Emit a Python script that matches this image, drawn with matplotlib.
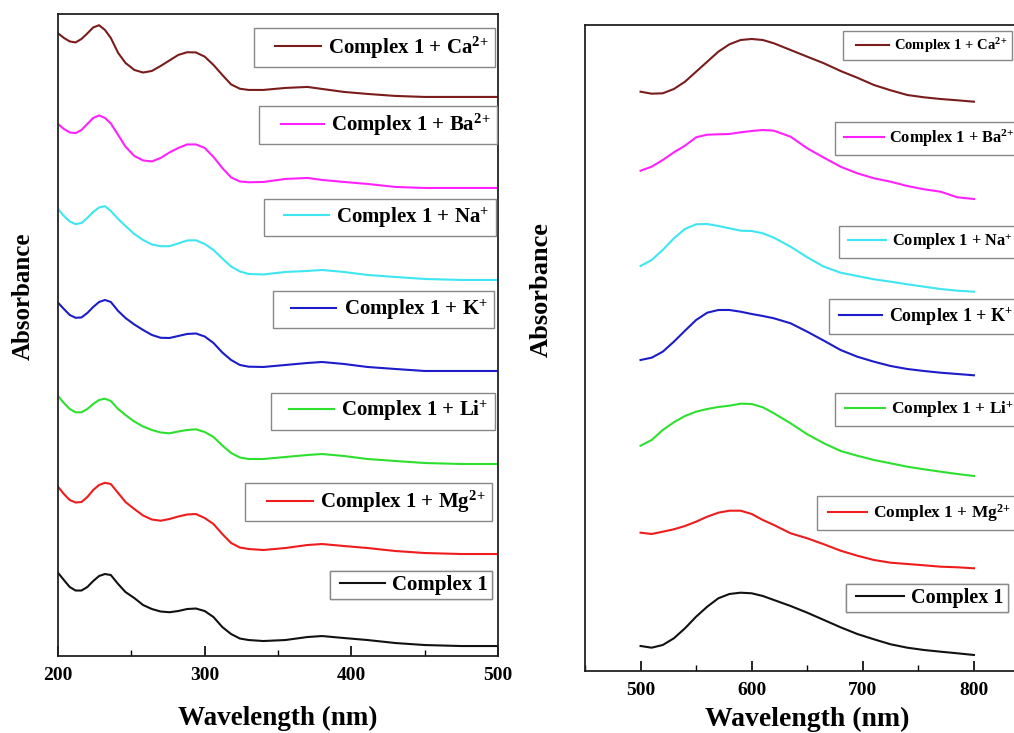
import matplotlib
matplotlib.use('Agg')
import matplotlib.pyplot as plt
from matplotlib.lines import Line2D
from matplotlib.legend_handler import HandlerLine2D
from matplotlib.ticker import MultipleLocator

plt.rcParams['font.family'] = 'Liberation Serif'
plt.rcParams['font.weight'] = 'bold'
plt.rcParams['mathtext.fontset'] = 'custom'
plt.rcParams['mathtext.rm'] = 'Liberation Serif:bold'
plt.rcParams['mathtext.bf'] = 'Liberation Serif:bold'
plt.rcParams['mathtext.it'] = 'Liberation Serif:bold'
plt.rcParams['mathtext.default'] = 'bf'

# ---- dados: UV-Vis (painel esquerdo), curvas empilhadas em u.a.
wl_uv = [200, 204, 208, 212, 216, 220, 224, 228, 232, 236, 241, 246, 252, 258, 264, 270,
         276, 282, 288, 294, 300, 306, 312, 318, 324, 330, 340, 355, 370, 380, 395, 411,
         430, 450, 475, 500]
uv_c1 = [0.833, 0.76, 0.69, 0.655, 0.655, 0.69, 0.75, 0.80, 0.82, 0.81, 0.72, 0.64,
         0.58, 0.51, 0.47, 0.445, 0.438, 0.45, 0.47, 0.475, 0.45, 0.39, 0.29, 0.22,
         0.175, 0.16, 0.15, 0.16, 0.19, 0.20, 0.18, 0.16, 0.13, 0.11, 0.10, 0.10]
uv_mg = [1.693, 1.62, 1.56, 1.535, 1.54, 1.59, 1.66, 1.71, 1.732, 1.72, 1.63, 1.54,
         1.47, 1.405, 1.365, 1.353, 1.37, 1.395, 1.415, 1.42, 1.38, 1.32, 1.22, 1.13,
         1.085, 1.07, 1.06, 1.08, 1.11, 1.12, 1.10, 1.08, 1.05, 1.03, 1.02, 1.02]
uv_li = [2.60, 2.53, 2.47, 2.437, 2.437, 2.47, 2.52, 2.56, 2.573, 2.55, 2.47, 2.41,
         2.345, 2.295, 2.26, 2.235, 2.227, 2.245, 2.26, 2.267, 2.24, 2.19, 2.105, 2.03,
         1.985, 1.97, 1.97, 1.99, 2.01, 2.02, 2.00, 1.97, 1.95, 1.93, 1.92, 1.92]
uv_k = [3.533, 3.47, 3.41, 3.382, 3.385, 3.43, 3.49, 3.54, 3.56, 3.54, 3.45, 3.38,
        3.315, 3.26, 3.21, 3.182, 3.18, 3.20, 3.22, 3.225, 3.195, 3.13, 3.035, 2.96,
        2.91, 2.893, 2.89, 2.91, 2.93, 2.94, 2.92, 2.89, 2.87, 2.85, 2.85, 2.85]
uv_na = [4.47, 4.40, 4.345, 4.318, 4.33, 4.38, 4.44, 4.485, 4.498, 4.45, 4.37, 4.30,
         4.22, 4.16, 4.115, 4.097, 4.098, 4.125, 4.155, 4.157, 4.12, 4.06, 3.975, 3.895,
         3.845, 3.82, 3.815, 3.84, 3.85, 3.86, 3.84, 3.81, 3.79, 3.77, 3.76, 3.76]
uv_ba = [5.32, 5.27, 5.235, 5.228, 5.26, 5.32, 5.38, 5.405, 5.38, 5.325, 5.21, 5.093,
         5.00, 4.955, 4.945, 4.98, 5.035, 5.08, 5.115, 5.115, 5.08, 4.99, 4.88, 4.785,
         4.745, 4.737, 4.74, 4.77, 4.78, 4.76, 4.74, 4.72, 4.69, 4.68, 4.68, 4.68]
uv_ca = [6.227, 6.18, 6.145, 6.135, 6.17, 6.225, 6.285, 6.307, 6.26, 6.18, 6.03, 5.93,
         5.86, 5.834, 5.85, 5.90, 5.955, 6.01, 6.037, 6.035, 5.993, 5.91, 5.81, 5.715,
         5.672, 5.66, 5.66, 5.68, 5.69, 5.67, 5.64, 5.62, 5.60, 5.59, 5.59, 5.59]

# ---- dados: visível (painel direito)
wl_vis = [500, 510, 520, 530, 540, 550, 560, 570, 580, 590, 600, 610, 620, 635, 650,
          665, 680, 695, 710, 725, 740, 755, 770, 785, 800]
vis_c1 = [0.25, 0.233, 0.26, 0.327, 0.427, 0.543, 0.643, 0.727, 0.77, 0.783, 0.777,
          0.75, 0.71, 0.65, 0.583, 0.51, 0.437, 0.37, 0.317, 0.267, 0.233, 0.21, 0.193,
          0.177, 0.16]
vis_mg = [1.383, 1.37, 1.393, 1.417, 1.45, 1.493, 1.543, 1.583, 1.603, 1.603, 1.57,
          1.51, 1.46, 1.377, 1.327, 1.267, 1.203, 1.153, 1.11, 1.083, 1.07, 1.057, 1.043,
          1.037, 1.027]
vis_li = [2.253, 2.31, 2.41, 2.487, 2.55, 2.593, 2.62, 2.64, 2.653, 2.673, 2.67, 2.637,
          2.577, 2.477, 2.367, 2.277, 2.20, 2.153, 2.11, 2.077, 2.043, 2.017, 1.993,
          1.97, 1.95]
vis_k = [3.11, 3.133, 3.193, 3.293, 3.403, 3.51, 3.583, 3.61, 3.61, 3.593, 3.57, 3.55,
         3.527, 3.477, 3.393, 3.303, 3.21, 3.143, 3.093, 3.05, 3.02, 3.00, 2.983, 2.97,
         2.957]
vis_na = [4.05, 4.11, 4.21, 4.327, 4.42, 4.467, 4.47, 4.45, 4.427, 4.403, 4.40, 4.377,
          4.333, 4.243, 4.137, 4.043, 3.983, 3.95, 3.917, 3.893, 3.867, 3.843, 3.82,
          3.803, 3.793]
vis_ba = [5.003, 5.043, 5.11, 5.187, 5.253, 5.337, 5.363, 5.367, 5.37, 5.387, 5.40,
          5.41, 5.403, 5.343, 5.227, 5.133, 5.043, 4.977, 4.927, 4.893, 4.85, 4.817,
          4.793, 4.737, 4.72]
vis_ca = [5.793, 5.773, 5.777, 5.82, 5.893, 5.993, 6.093, 6.193, 6.267, 6.31, 6.32,
          6.31, 6.277, 6.21, 6.143, 6.077, 6.00, 5.933, 5.86, 5.807, 5.76, 5.737, 5.72,
          5.707, 5.693]

rotulos = [r'Complex 1 + Ca$^{2\!+}$', r'Complex 1 + Ba$^{2\!+}$', r'Complex 1 + Na$^{+}$',
           r'Complex 1 + K$^{+}$', r'Complex 1 + Li$^{+}$', r'Complex 1 + Mg$^{2\!+}$',
           'Complex 1']
cores = ['#7b1c1c', '#ff22ff', '#3ee6f2', '#1c1cc8', '#2ee02e', '#ee1c1c', '#111111']

uv_series = [uv_ca, uv_ba, uv_na, uv_k, uv_li, uv_mg, uv_c1]
vis_series = [vis_ca, vis_ba, vis_na, vis_k, vis_li, vis_mg, vis_c1]

# legendas: canto (coord. do eixo), pad da caixa, recuo da linha, comprimento da linha
leg_uv = [(0.993, 0.978), (0.998, 0.857), (0.995, 0.712), (0.990, 0.568),
          (0.993, 0.410), (0.986, 0.270), (0.986, 0.132)]
pad_uv = [0.3, 0.3, 0.3, 0.3, 0.3, 0.3, 0.19]
lead_uv = [0.7, 0.76, 0.66, 0.57, 0.57, 0.76, 0.29]
linha_uv = [2.2, 2.07, 2.16, 2.16, 2.16, 2.2, 2.15]

leg_vis = [(0.580, 0.991), (0.563, 0.850), (0.572, 0.689), (0.549, 0.576),
           (0.563, 0.430), (0.522, 0.271), (0.587, 0.135)]
fs_vis = [10.5, 11.8, 11.8, 13.0, 12.5, 12.5, 14.5]
pad_vis = [0.35, 0.35, 0.35, 0.35, 0.35, 0.35, 0.2]
lead_vis = [0.55, 0.2, 0.2, 0.2, 0.2, 0.28, 0.3]
linha_vis = [2.25, 2.4, 2.3, 2.4, 2.3, 2.25, 2.4]


class HandlerRecuo(HandlerLine2D):
    # linha da legenda com um recuo à esquerda
    def __init__(self, recuo, **kw):
        super().__init__(**kw)
        self.recuo = recuo

    def create_artists(self, legend, orig_handle, xdescent, ydescent, width, height,
                       fontsize, trans):
        r = self.recuo * fontsize
        return super().create_artists(legend, orig_handle, xdescent - r, ydescent,
                                      width - r, height, fontsize, trans)


def legenda(ax, cor, texto, pos, loc, fs, pad, recuo, comp):
    leg = ax.legend(handles=[Line2D([], [], color=cor, lw=1.5)], labels=[texto],
                    loc=loc, bbox_to_anchor=pos, fontsize=fs,
                    fancybox=False, edgecolor='#888888', framealpha=1,
                    handlelength=comp + recuo, handletextpad=0.35, borderpad=pad,
                    borderaxespad=0, handler_map={Line2D: HandlerRecuo(recuo)})
    leg.get_frame().set_linewidth(1.0)
    ax.add_artist(leg)


def estilo(ax, xmin, xmax, ymax):
    ax.set_xlim(xmin, xmax)
    ax.set_ylim(0, ymax)
    ax.xaxis.set_major_locator(MultipleLocator(100))
    ax.xaxis.set_minor_locator(MultipleLocator(50))
    ax.tick_params(axis='x', which='major', direction='in', length=7, width=1.2,
                   labelsize=14, pad=8, top=False)
    ax.tick_params(axis='x', which='minor', direction='in', length=4, width=1.0, top=False)
    ax.set_yticks([])
    for s in ax.spines.values():
        s.set_linewidth(1.3)
        s.set_color('#222222')


fig = plt.figure(figsize=(10.14, 7.33), dpi=100)
ax1 = fig.add_axes([0.0572, 0.105, 0.434, 0.876])
ax2 = fig.add_axes([0.5769, 0.0846, 0.4384, 0.8813])

estilo(ax1, 200, 500, 6.42)
estilo(ax2, 450, 850, 6.46)
ax2.set_xticks([500, 600, 700, 800])

for i in range(len(uv_series)):
    ax1.plot(wl_uv, uv_series[i], color=cores[i], lw=1.5)
    legenda(ax1, cores[i], rotulos[i], leg_uv[i], 'upper right', 15,
            pad_uv[i], lead_uv[i], linha_uv[i])

for i in range(len(vis_series)):
    ax2.plot(wl_vis, vis_series[i], color=cores[i], lw=1.5)
    legenda(ax2, cores[i], rotulos[i], leg_vis[i], 'upper left', fs_vis[i],
            pad_vis[i], lead_vis[i], linha_vis[i])

ax1.set_xlabel('Wavelength (nm)', fontsize=19.5, fontweight='bold')
ax1.xaxis.set_label_coords(0.5, -0.078)
ax2.set_xlabel('Wavelength (nm)', fontsize=20, fontweight='bold')
ax2.xaxis.set_label_coords(0.5, -0.056)
ax1.text(-0.080, 0.56, 'Absorbance', transform=ax1.transAxes, rotation=90,
         ha='center', va='center', fontsize=18, fontweight='bold')
ax2.text(-0.099, 0.59, 'Absorbance', transform=ax2.transAxes, rotation=90,
         ha='center', va='center', fontsize=19, fontweight='bold')

fig.savefig('out.png', dpi=100)
